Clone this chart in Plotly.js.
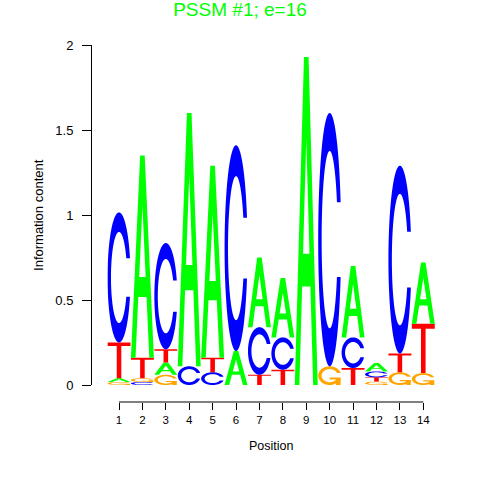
<!DOCTYPE html>
<html>
<head>
<meta charset="utf-8">
<script src="https://cdn.plot.ly/plotly-3.0.1.min.js"></script>
<style>html,body{margin:0;padding:0;background:#fff;}#chart{width:480px;height:480px;}</style>
</head>
<body>
<div id="chart"></div>
<script>
// ---- data (information content, bits) ----
const positions = [1, 2, 3, 4, 5, 6, 7, 8, 9, 10, 11, 12, 13, 14];
const bitsA = [0.022, 1.19, 0.072, 1.49, 1.13, 0.20, 0.41, 0.35, 1.93, 0, 0.42, 0.05, 0, 0.36];
const bitsC = [0.765, 0.018, 0.625, 0.11, 0.075, 1.21, 0.28, 0.19, 0, 1.49, 0.18, 0.035, 1.105, 0];
const bitsG = [0.018, 0.022, 0.06, 0, 0, 0, 0, 0, 0, 0.11, 0, 0.02, 0.075, 0.07];
const bitsT = [0.21, 0.12, 0.078, 0, 0.085, 0, 0.06, 0.09, 0, 0, 0.1, 0.025, 0.11, 0.29];
const yTickVals = [0, 0.5, 1, 1.5, 2];
const yTickText = ['0', '0.5', '1', '1.5', '2'];
const titleText = 'PSSM #1; e=16';

const colors = {A: '#00FF00', C: '#0000FF', G: '#FFA500', T: '#FF0000'};
const LW = 0.98;

// ---- letter glyphs in unit box (seqLogo-style polygons) ----
function seq(a, b, n) { const o = []; for (let i = 0; i < n; i++) o.push(a + (b - a) * i / (n - 1)); return o; }
function ringC() {
  const a1 = seq(0.3 + Math.PI / 2, Math.PI, 100), a2 = seq(Math.PI, 1.5 * Math.PI, 100);
  const xl1 = a1.map(a => 0.5 + 0.5 * Math.sin(a)), yl1 = a1.map(a => 0.5 + 0.5 * Math.cos(a));
  const xl2 = a2.map(a => 0.5 + 0.5 * Math.sin(a)), yl2 = a2.map(a => 0.5 + 0.5 * Math.cos(a));
  const xl = xl1.concat(xl2), yl = yl1.concat(yl2);
  let x = xl.concat(xl.slice().reverse());
  let y = yl.concat(yl.slice().reverse().map(v => 1 - v));
  const h = Math.max(...yl1);
  let xi1 = a1.map(a => 0.5 + 0.35 * Math.sin(a)), yi1 = a1.map(a => 0.5 + 0.35 * Math.cos(a));
  const keep = yi1.map(v => v <= h);
  xi1 = xi1.filter((v, i) => keep[i]); yi1 = yi1.filter((v, i) => keep[i]);
  yi1[0] = h;
  const xi2 = a2.map(a => 0.5 + 0.35 * Math.sin(a)), yi2 = a2.map(a => 0.5 + 0.35 * Math.cos(a));
  const xi = xi1.concat(xi2), yi = yi1.concat(yi2);
  const x1 = xi.concat(xi.slice().reverse());
  const y1 = yi.concat(yi.slice().reverse().map(v => 1 - v));
  x = x.concat(x1.slice().reverse()); y = y.concat(y1.slice().reverse());
  return {x, y, r1: Math.max(...xl1)};
}
const C0 = ringC();
const glyphs = {
  A: [[[0,0.4,0.6,1,0.8,0.68,0.32,0.2,0], [0,1,1,0,0,0.3,0.3,0,0], [0.36,0.5,0.64,0.36], [0.4,0.75,0.4,0.4]]],
  C: [[C0.x, C0.y]],
  G: [[C0.x, C0.y], [[C0.r1,0.5,0.5,C0.r1-0.2,C0.r1-0.2,C0.r1,C0.r1], [0.4,0.4,0.3,0.3,0,0,0.4]]],
  T: [[[0,1,1,0.6,0.6,0.4,0.4,0], [1,1,0.9,0.9,0,0,0.9,0.9]]]
};

function pathFor(letter, xc, y0, h) {
  const out = [];
  glyphs[letter].forEach(parts => {
    let d = '';
    for (let k = 0; k < parts.length; k += 2) {
      const xs = parts[k], ys = parts[k + 1];
      xs.forEach((u, i) => {
        const px = xc - LW / 2 + LW * u, py = y0 + h * ys[i];
        d += (i === 0 ? 'M' : 'L') + px.toFixed(5) + ',' + py.toFixed(5);
      });
      d += 'Z';
    }
    out.push(d);
  });
  return out;
}

const shapes = [];
const tops = [];
positions.forEach((p, i) => {
  const col = [['A', bitsA[i]], ['C', bitsC[i]], ['G', bitsG[i]], ['T', bitsT[i]]]
    .filter(e => e[1] > 0).sort((a, b) => a[1] - b[1]);
  let y0 = 0;
  col.forEach(([L, h]) => {
    pathFor(L, p, y0, h).forEach(d => shapes.push({
      type: 'path', xref: 'x', yref: 'y', path: d, fillcolor: colors[L],
      fillrule: 'evenodd', line: {width: 0}, layer: 'above'
    }));
    y0 += h;
  });
  tops.push(y0);
});

// x axis line (R style, from first to last tick)
shapes.push({type: 'line', xref: 'x', yref: 'paper', x0: positions[0], x1: positions[positions.length - 1],
  y0: 0, y1: 0, line: {color: '#000', width: 1}});

const font = 'Liberation Sans, Arial, Helvetica, sans-serif';
const data = [{x: positions, y: tops, type: 'scatter', mode: 'none', hoverinfo: 'skip', showlegend: false}];
const layout = {
  width: 480, height: 480,
  paper_bgcolor: '#fff', plot_bgcolor: '#fff',
  margin: {l: 91, r: 45.3, t: 45, b: 78, pad: 0},
  showlegend: false,
  font: {family: font, color: '#000', size: 12},
  title: {text: titleText, font: {family: font, size: 19, color: '#00FF00'},
    x: 0.5, xref: 'container', xanchor: 'center', y: 0.981, yref: 'container', yanchor: 'middle'},
  xaxis: {
    domain: [0.0474, 1], range: [0.5, 14.5], anchor: 'free', position: 0,
    tickmode: 'array', tickvals: positions, ticktext: positions.map(String),
    ticks: 'outside', ticklen: 7, tickcolor: '#000', tickwidth: 1,
    showline: false, showgrid: false, zeroline: false,
    tickfont: {family: font, size: 11.5, color: '#000'}, fixedrange: true
  },
  yaxis: {
    domain: [17 / 357, 1], range: [0, 2], anchor: 'free', position: 0,
    tickmode: 'array', tickvals: yTickVals, ticktext: yTickText,
    ticks: 'outside', ticklen: 9, tickcolor: '#000', tickwidth: 1,
    showline: true, linecolor: '#000', linewidth: 1,
    showgrid: false, zeroline: false, ticklabelstandoff: 6,
    tickfont: {family: font, size: 13, color: '#000'}, fixedrange: true
  },
  shapes: shapes,
  annotations: [
    {text: 'Position', xref: 'x', x: 7.5, yref: 'paper', y: (402 - 446) / 357,
      xanchor: 'center', yanchor: 'middle', showarrow: false, font: {family: font, size: 12.5, color: '#000'}},
    {text: 'Information content', xref: 'paper', x: (38 - 91) / 343.7, yref: 'y', y: 1,
      xanchor: 'center', yanchor: 'middle', textangle: -90, showarrow: false,
      font: {family: font, size: 13, color: '#000'}}
  ]
};
Plotly.newPlot('chart', data, layout, {staticPlot: true, displayModeBar: false});
</script>
</body>
</html>
